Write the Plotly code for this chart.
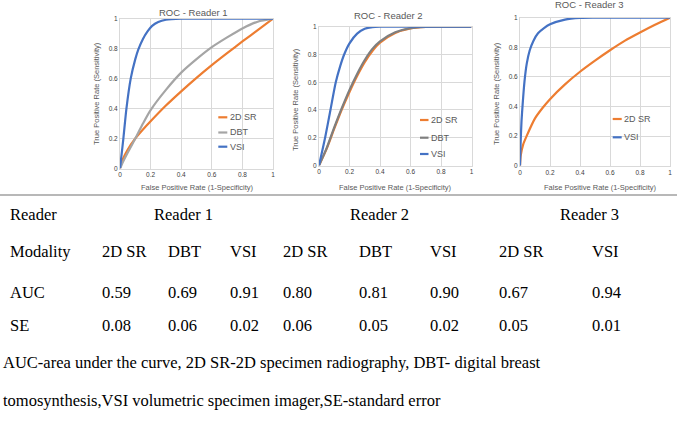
import plotly.graph_objects as go

# ---------------- data ----------------
# Reader 1
r1_vsi_fpr = [0, 0.01, 0.022, 0.042, 0.07, 0.1, 0.12, 0.15, 0.18, 0.21, 0.25, 0.3, 0.4, 0.6, 0.8, 1.0]
r1_vsi_tpr = [0, 0.09, 0.2, 0.4, 0.6, 0.73, 0.795, 0.865, 0.915, 0.952, 0.978, 0.993, 1, 1, 1, 1]
r1_sr_fpr = [0, 0.02, 0.05, 0.1, 0.15, 0.2, 0.3, 0.4, 0.5, 0.6, 0.7, 0.8, 0.9, 1.0]
r1_sr_tpr = [0, 0.065, 0.125, 0.2, 0.26, 0.315, 0.42, 0.515, 0.605, 0.69, 0.77, 0.848, 0.924, 1.0]
r1_dbt_fpr = [0, 0.02, 0.05, 0.1, 0.15, 0.2, 0.3, 0.4, 0.5, 0.6, 0.7, 0.8, 0.9, 1.0]
r1_dbt_tpr = [0, 0.045, 0.105, 0.2, 0.3, 0.39, 0.525, 0.64, 0.73, 0.81, 0.875, 0.935, 0.98, 1.0]

# Reader 2
r2_vsi_fpr = [0, 0.04, 0.075, 0.11, 0.14, 0.165, 0.2, 0.25, 0.3, 0.35, 0.4, 0.6, 0.8, 1.0]
r2_vsi_tpr = [0, 0.2, 0.4, 0.6, 0.72, 0.8, 0.88, 0.95, 0.985, 0.997, 1, 1, 1, 1]
r2_sr_fpr = [0, 0.05, 0.1, 0.15, 0.2, 0.25, 0.3, 0.35, 0.4, 0.5, 0.6, 0.7, 0.8, 1.0]
r2_sr_tpr = [0, 0.12, 0.265, 0.405, 0.53, 0.645, 0.745, 0.825, 0.885, 0.955, 0.988, 0.998, 1, 1]
r2_dbt_fpr = [0, 0.05, 0.1, 0.15, 0.2, 0.25, 0.3, 0.35, 0.4, 0.5, 0.6, 0.7, 0.8, 1.0]
r2_dbt_tpr = [0, 0.125, 0.275, 0.415, 0.545, 0.66, 0.76, 0.84, 0.895, 0.96, 0.99, 0.999, 1, 1]

# Reader 3
r3_vsi_fpr = [0, 0.004, 0.01, 0.018, 0.03, 0.045, 0.065, 0.09, 0.12, 0.16, 0.2, 0.3, 0.4, 0.5, 1.0]
r3_vsi_tpr = [0, 0.15, 0.3, 0.42, 0.57, 0.69, 0.78, 0.845, 0.895, 0.93, 0.955, 0.987, 0.998, 1, 1]
r3_sr_fpr = [0, 0.005, 0.02, 0.044, 0.1, 0.15, 0.2, 0.3, 0.4, 0.5, 0.6, 0.7, 0.8, 0.9, 1.0]
r3_sr_tpr = [0, 0.07, 0.14, 0.2, 0.32, 0.39, 0.45, 0.55, 0.635, 0.71, 0.78, 0.845, 0.9, 0.952, 1.0]

tick_vals = [0, 0.2, 0.4, 0.6, 0.8, 1]
tick_text = ["0", "0.2", "0.4", "0.6", "0.8", "1"]

# table
reader_names = ["Reader 1", "Reader 2", "Reader 3"]
modalities = ["2D SR", "DBT", "VSI", "2D SR", "DBT", "VSI", "2D SR", "VSI"]
auc_values = [0.59, 0.69, 0.91, 0.80, 0.81, 0.90, 0.67, 0.94]
se_values = [0.08, 0.06, 0.02, 0.06, 0.05, 0.02, 0.05, 0.01]
footnote = ["AUC-area under the curve, 2D SR-2D specimen radiography, DBT- digital breast",
            "tomosynthesis,VSI volumetric specimen imager,SE-standard error"]

# ---------------- layout helpers ----------------
W, H = 677, 422
def px(x):
    return x / W
def py(y):
    return 1 - y / H

ORANGE = "#ED7D31"
GRAY1 = "#A5A5A5"
GRAY2 = "#7F7F7F"
BLUE = "#4472C4"
TXT = "#595959"
SANS = "Liberation Sans"
SERIF = "Liberation Serif"

fig = go.Figure()

def add(x, y, color, ax):
    fig.add_trace(go.Scatter(x=x, y=y, mode="lines",
                             line=dict(color=color, width=2.2, shape="spline", smoothing=0.7),
                             xaxis="x" + ax, yaxis="y" + ax, showlegend=False,
                             hoverinfo="skip"))

add(r1_sr_fpr, r1_sr_tpr, ORANGE, "")
add(r1_dbt_fpr, r1_dbt_tpr, GRAY1, "")
add(r1_vsi_fpr, r1_vsi_tpr, BLUE, "")
add(r2_sr_fpr, r2_sr_tpr, ORANGE, "2")
add(r2_dbt_fpr, r2_dbt_tpr, GRAY2, "2")
add(r2_vsi_fpr, r2_vsi_tpr, BLUE, "2")
add(r3_sr_fpr, r3_sr_tpr, ORANGE, "3")
add(r3_vsi_fpr, r3_vsi_tpr, BLUE, "3")

panels = [
    # x0, x1, ytop, ybottom (pixels)
    (120, 273, 18.7, 168.5),
    (319, 471.5, 26.7, 165.5),
    (520, 670, 17.7, 165.8),
]

axis_common = dict(range=[0, 1], tickvals=tick_vals, ticktext=tick_text,
                   showgrid=True, gridcolor="#D9D9D9", gridwidth=1,
                   zeroline=False, showline=True, linecolor="#D9D9D9", linewidth=1,
                   mirror=True, ticks="", fixedrange=True, automargin=False,
                   tickfont=dict(family=SANS, size=6.5, color="#404040"))

layout_axes = {}
for i, (x0, x1, yt, yb) in enumerate(panels):
    s = "" if i == 0 else str(i + 1)
    layout_axes["xaxis" + s] = dict(axis_common, domain=[px(x0), px(x1)], anchor="y" + s)
    layout_axes["yaxis" + s] = dict(axis_common, domain=[py(yb), py(yt)], anchor="x" + s)

annotations = []
def text(x, y, t, size, color="black", family=SERIF, xanchor="left", angle=0):
    annotations.append(dict(x=px(x), y=py(y), xref="paper", yref="paper", text=t,
                            showarrow=False, xanchor=xanchor, yanchor="middle",
                            textangle=angle,
                            font=dict(family=family, size=size, color=color)))

# chart titles and axis titles
titles = [("ROC - Reader 1", 193, 12.5), ("ROC - Reader 2", 388, 16), ("ROC - Reader 3", 589, 4.5)]
for t, x, y in titles:
    text(x, y, t, 9.5, TXT, SANS, "center")
xt = [197, 396, 600]
yt_pos = [(97, 94), (295, 100), (496, 93)]
for x in xt:
    text(x, 188, "False Positive Rate (1-Specificity)", 7.5, TXT, SANS, "center")
for x, y in yt_pos:
    text(x, y, "True Positive Rate (Sensitivity)", 7.5, TXT, SANS, "center", -90)

# manual legends
shapes = []
legends = [
    (218.3, 227.3, [(117.3, "2D SR", ORANGE), (132.5, "DBT", GRAY1), (146.7, "VSI", BLUE)]),
    (420, 428.5, [(120, "2D SR", ORANGE), (137.7, "DBT", GRAY2), (154, "VSI", BLUE)]),
    (612.7, 621.7, [(119, "2D SR", ORANGE), (137.3, "VSI", BLUE)]),
]
for lx0, lx1, items in legends:
    for y, name, col in items:
        shapes.append(dict(type="line", xref="paper", yref="paper",
                           x0=px(lx0), x1=px(lx1), y0=py(y), y1=py(y),
                           line=dict(color=col, width=2.2)))
        text(lx1 + 0.5, y, name, 9, TXT, SANS, "left")

# separator line
shapes.append(dict(type="line", xref="paper", yref="paper", x0=0, x1=1,
                   y0=py(195), y1=py(195), line=dict(color="#A0A0A0", width=1.5)))

# table
TS = 16.5
col_x = [100, 166, 228, 281, 357, 428, 497, 590]
reader_x = [152, 348, 558]
row_y = {"Reader": 214, "Modality": 252, "AUC": 292, "SE": 325}
text(8, row_y["Reader"], "Reader", TS)
for x, r in zip(reader_x, reader_names):
    text(x, row_y["Reader"], r, TS)
text(8, row_y["Modality"], "Modality", TS)
text(8, row_y["AUC"], "AUC", TS)
text(8, row_y["SE"], "SE", TS)
for x, m, a, s in zip(col_x, modalities, auc_values, se_values):
    text(x, row_y["Modality"], m, TS)
    text(x, row_y["AUC"], f"{a:.2f}", TS)
    text(x, row_y["SE"], f"{s:.2f}", TS)
text(0.5, 362, footnote[0], TS)
text(0.5, 400, footnote[1], TS)

fig.update_layout(width=W, height=H, margin=dict(l=0, r=0, t=0, b=0),
                  paper_bgcolor="white", plot_bgcolor="white",
                  annotations=annotations, shapes=shapes, showlegend=False,
                  **layout_axes)

fig.write_html("out.html", config={"displayModeBar": False, "staticPlot": True},
               post_script="document.body.style.margin='0';")
